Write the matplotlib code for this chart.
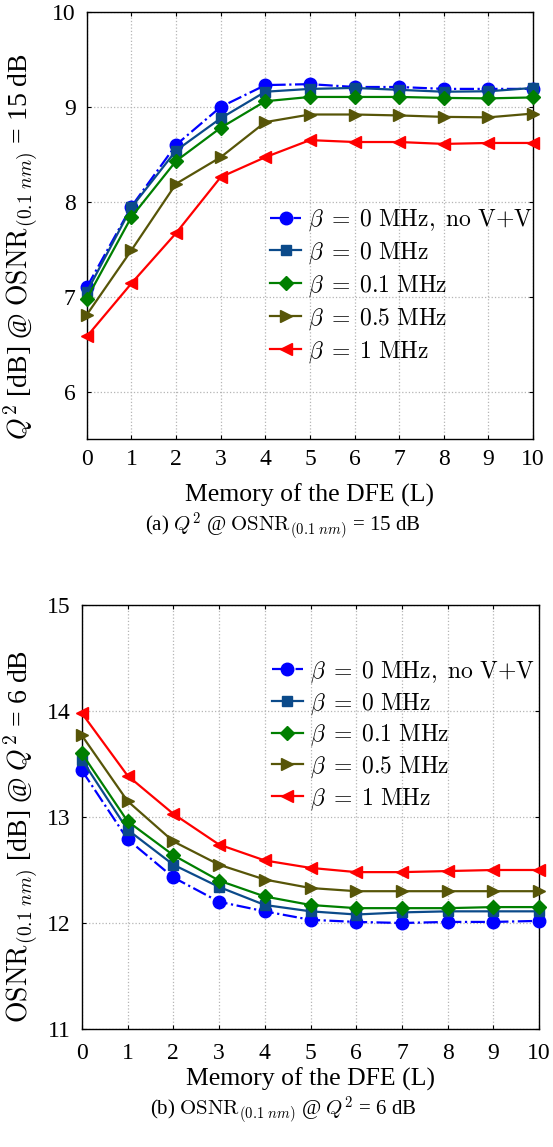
import matplotlib
matplotlib.use('Agg')
import matplotlib.pyplot as plt
import numpy as np

plt.rcParams['font.family'] = ['Liberation Serif', 'DejaVu Serif']
plt.rcParams['mathtext.fontset'] = 'cm'

memory = np.arange(0, 11)

labels = [r'$\beta\;=\;0\ \mathrm{MHz,\ no\ V{+}V}$',
          r'$\beta\;=\;0\ \mathrm{MHz}$',
          r'$\beta\;=\;0.1\ \mathrm{MHz}$',
          r'$\beta\;=\;0.5\ \mathrm{MHz}$',
          r'$\beta\;=\;1\ \mathrm{MHz}$']

# (a) Q^2 at OSNR = 15 dB
q2_novv = [7.10, 7.95, 8.60, 9.00, 9.23, 9.24, 9.21, 9.21, 9.19, 9.19, 9.19]
q2_b0 = [7.05, 7.94, 8.54, 8.88, 9.16, 9.19, 9.20, 9.18, 9.16, 9.165, 9.20]
q2_b01 = [6.98, 7.84, 8.43, 8.78, 9.06, 9.105, 9.105, 9.105, 9.095, 9.09, 9.10]
q2_b05 = [6.81, 7.49, 8.19, 8.47, 8.84, 8.92, 8.92, 8.91, 8.895, 8.89, 8.93]
q2_b1 = [6.58, 7.14, 7.67, 8.26, 8.47, 8.65, 8.63, 8.63, 8.61, 8.62, 8.62]

# (b) OSNR at Q^2 = 6 dB
osnr_novv = [13.44, 12.79, 12.43, 12.20, 12.11, 12.03, 12.01, 12.00, 12.01, 12.01, 12.02]
osnr_b0 = [13.54, 12.88, 12.55, 12.34, 12.17, 12.11, 12.08, 12.10, 12.11, 12.11, 12.11]
osnr_b01 = [13.60, 12.96, 12.64, 12.40, 12.25, 12.17, 12.14, 12.14, 12.14, 12.15, 12.15]
osnr_b05 = [13.77, 13.15, 12.77, 12.55, 12.41, 12.33, 12.30, 12.30, 12.30, 12.30, 12.30]
osnr_b1 = [13.98, 13.39, 13.03, 12.74, 12.59, 12.52, 12.48, 12.48, 12.49, 12.50, 12.50]

colors = ['#0000ff', '#0b4a8a', '#007f00', '#575508', '#ff0000']
markers = ['o', 's', 'D', '>', '<']
styles = ['-.', '-', '-', '-', '-']
msizes = [9, 7, 7, 9, 9]


def draw(ax, series, ylim, yticks, xpad, xlabelpad):
    for ys, c, m, ls, ms, lab in zip(series, colors, markers, styles, msizes, labels):
        ax.plot(memory, ys, color=c, marker=m, linestyle=ls, linewidth=1.6,
                markersize=ms, label=lab, clip_on=False, zorder=3)
    ax.set_xlim(0, 10)
    ax.set_ylim(*ylim)
    ax.set_xticks(memory)
    ax.set_yticks(yticks)
    ax.grid(True, linestyle=':', color='#b5b5b5', linewidth=0.9)
    ax.tick_params(direction='in', top=True, right=True, labelsize=17, length=3, pad=8)
    ax.tick_params(axis='x', pad=xpad)
    ax.set_xlabel('Memory of the DFE (L)', fontsize=18.5, labelpad=xlabelpad)
    for s in ax.spines.values():
        s.set_linewidth(1.0)


fig = plt.figure(figsize=(5.53, 11.47), dpi=100)

ax1 = fig.add_axes([0.157, 0.6173, 0.807, 0.3722])
draw(ax1, [q2_novv, q2_b0, q2_b01, q2_b05, q2_b1], (5.5, 10), [6, 7, 8, 9, 10], 7, 10)
ax1.set_ylabel(r'$Q^2$ [dB] @ $\mathrm{OSNR}_{(0.1\ nm)}$ = 15 dB', fontsize=20)
ax1.yaxis.set_label_coords(-0.105, 0.45)
ax1.legend(loc='upper left', bbox_to_anchor=(0.385, 0.57), frameon=False, fontsize=17,
           handlelength=1.3, handletextpad=0.3, labelspacing=0.3, borderpad=0)
fig.text(0.512, 1 - 526 / 1147, r'(a) $Q^2$ @ $\mathrm{OSNR}_{(0.1\ nm)}$ = 15 dB',
         ha='center', va='center', fontsize=15)

ax2 = fig.add_axes([0.148, 0.1029, 0.827, 0.3696])
draw(ax2, [osnr_novv, osnr_b0, osnr_b01, osnr_b05, osnr_b1], (11, 15), [11, 12, 13, 14, 15], 10, 3)
ax2.set_ylabel(r'$\mathrm{OSNR}_{(0.1\ nm)}$ [dB] @ $Q^2$ = 6 dB', fontsize=20)
ax2.yaxis.set_label_coords(-0.092, 0.455)
ax2.legend(loc='upper left', bbox_to_anchor=(0.39, 0.9), frameon=False, fontsize=17,
           handlelength=1.3, handletextpad=0.3, labelspacing=0.25, borderpad=0)
fig.text(0.512, 1 - 1110 / 1147, r'(b) $\mathrm{OSNR}_{(0.1\ nm)}$ @ $Q^2$ = 6 dB',
         ha='center', va='center', fontsize=15)

fig.savefig('out.png', dpi=100)
